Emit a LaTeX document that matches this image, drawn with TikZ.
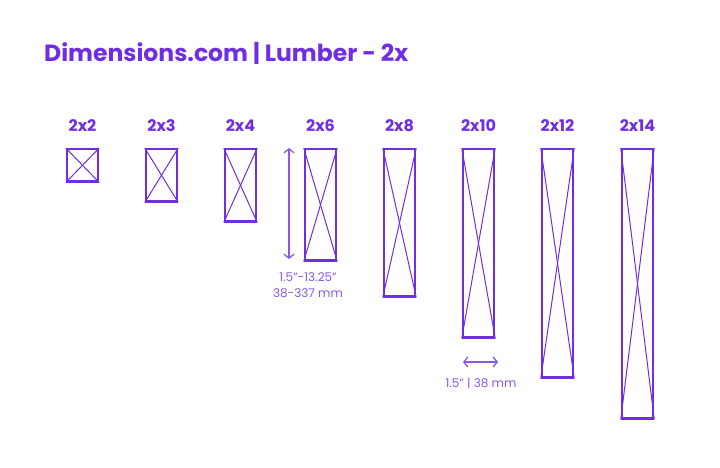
\documentclass[tikz,border=0pt]{standalone}
\usepackage{fontspec}
\setmainfont{Poppins}
\usetikzlibrary{arrows.meta}
\definecolor{dimpurple}{RGB}{112,46,228}
\definecolor{dimlight}{RGB}{138,88,238}
\begin{document}
\begin{tikzpicture}[x=1pt,y=-1pt,
  lumber/.style={draw=dimpurple, line width=2.5pt, inner sep=0pt, minimum width=31pt, anchor=north},
  cross/.style={draw=dimpurple, line width=1pt},
  size/.style={font=\bfseries\fontsize{16}{18}\selectfont, text=dimpurple},
  dimtext/.style={font=\fontsize{12}{16}\selectfont, text=dimlight, align=center},
  dimline/.style={draw=dimlight, line width=1.3pt, {Straight Barb[length=4pt,width=10pt]}-{Straight Barb[length=4pt,width=10pt]}}]
\useasboundingbox[fill=white] (0,0) rectangle (720,468);
\node[anchor=west, inner sep=0pt, font=\bfseries\fontsize{23.5}{27}\selectfont, text=dimpurple] (title) at (44,53) {Dimensions.com | Lumber - 2x};
\foreach \cx/\h/\lbl/\nm in {82.5/32/2x2/b2, 161.5/52/2x3/b3, 240.5/72/2x4/b4, 320.5/111/2x6/b6, 399.5/147/2x8/b8, 478.5/188/2x10/b10, 557.5/228/2x12/b12, 637.5/269/2x14/b14}{
  \node[lumber, minimum height=\h pt] (\nm) at (\cx,148) {};
  \draw[cross] (\nm.north west) -- (\nm.south east);
  \draw[cross] (\nm.north east) -- (\nm.south west);
  \node[size] (l\nm) at (\cx,126) {\lbl};
}
\coordinate (vtop) at (289,148);
\coordinate (vbot) at (289,259);
\draw[dimline] (vtop) -- (vbot);
\node[dimtext] (vlab) at (308,285) {1.5"-13.25"\\38-337 mm};
\coordinate (hl) at (463,362);
\coordinate (hr) at (498,362);
\draw[dimline] (hl) -- (hr);
\node[dimtext] (hlab) at (481,383) {1.5" | 38 mm};
\end{tikzpicture}
\end{document}
